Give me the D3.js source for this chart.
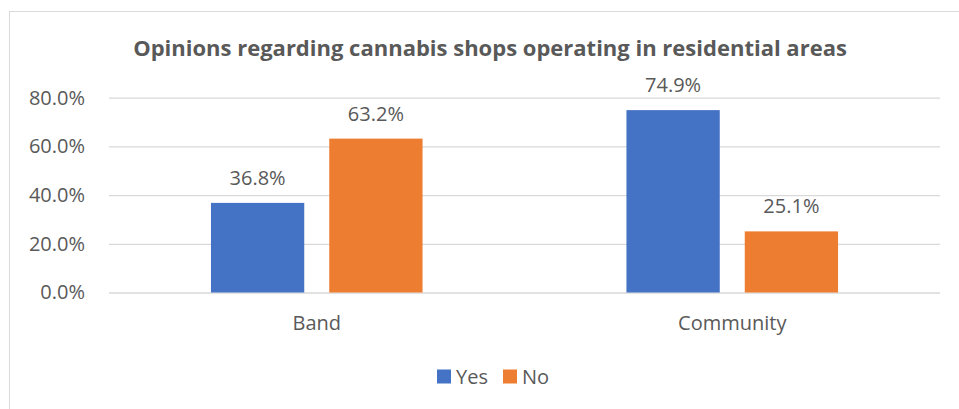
<!DOCTYPE html>
<html>
<head>
<meta charset="utf-8">
<script src="https://cdn.jsdelivr.net/npm/d3@7"></script>
<style>
  html, body { margin: 0; padding: 0; background: #fff; }
  svg { display: block; }
  text { font-family: "Open Sans", "Noto Sans", sans-serif; fill: #595959; }
</style>
</head>
<body>
<svg id="chart" width="959" height="409"></svg>
<script>
// Survey responses (share of respondents)
const categories = ["Band", "Community"];
const seriesNames = ["Yes", "No"];
const yesValues = [36.8, 74.9];
const noValues = [63.2, 25.1];
const yTicks = [0, 20, 40, 60, 80];
const title = "Opinions regarding cannabis shops operating in residential areas";
const colors = { Yes: "#4472C4", No: "#ED7D31" };

const rows = categories.map((c, i) => ({ category: c, Yes: yesValues[i], No: noValues[i] }));

const svg = d3.select("#chart");
const plot = { left: 109, right: 940, top: 97.7, bottom: 292.5 };
const labelSize = "20px";

// Chart frame
svg.append("rect")
  .attr("x", 9.5).attr("y", 11.5)
  .attr("width", 962).attr("height", 410)
  .attr("fill", "#fff").attr("stroke", "#D9D9D9").attr("stroke-width", 1);

svg.append("text")
  .attr("x", 490).attr("y", 56)
  .attr("text-anchor", "middle")
  .style("font-size", "22px").style("font-weight", "bold")
  .text(title);

const y = d3.scaleLinear().domain([0, 80]).range([plot.bottom, plot.top]);
const x0 = d3.scaleBand().domain(categories).range([plot.left, plot.right]).padding(0);
const groupW = 211.6;
const x1 = d3.scaleBand().domain(seriesNames)
  .range([-groupW / 2, groupW / 2]).paddingInner(0.2113).paddingOuter(0);

// Gridlines and y tick labels
const yAxis = d3.axisLeft(y).tickValues(yTicks)
  .tickSize(-(plot.right - plot.left)).tickPadding(24)
  .tickFormat(d => d.toFixed(1) + "%");
const gy = svg.append("g").attr("transform", `translate(${plot.left},0)`).call(yAxis);
gy.select(".domain").remove();
gy.selectAll(".tick line").attr("stroke", "#D9D9D9").attr("stroke-width", 1.3);
gy.selectAll(".tick text")
  .attr("fill", "#595959")
  .style("font-size", labelSize)
  .style("font-family", "'Open Sans', 'Noto Sans', sans-serif");

// Category labels
const xAxis = d3.axisBottom(x0).tickSize(0).tickPadding(23);
const gx = svg.append("g").attr("transform", `translate(0,${plot.bottom})`).call(xAxis);
gx.select(".domain").remove();
gx.selectAll(".tick text")
  .attr("fill", "#595959")
  .style("font-size", labelSize)
  .style("font-family", "'Open Sans', 'Noto Sans', sans-serif");

// Bars
const groups = svg.append("g").selectAll("g").data(rows).join("g")
  .attr("transform", d => `translate(${x0(d.category) + x0.bandwidth() / 2},0)`);

const cells = groups.selectAll("g").data(d => seriesNames.map(k => ({ key: k, value: d[k] }))).join("g");

cells.append("rect")
  .attr("x", d => x1(d.key))
  .attr("width", x1.bandwidth())
  .attr("y", d => y(d.value))
  .attr("height", d => y(0) - y(d.value))
  .attr("fill", d => colors[d.key]);

cells.append("text")
  .attr("x", d => x1(d.key) + x1.bandwidth() / 2)
  .attr("y", d => y(d.value) - 18)
  .attr("text-anchor", "middle")
  .style("font-size", labelSize)
  .text(d => d.value.toFixed(1) + "%");

// Legend
const legend = svg.append("g").attr("transform", "translate(437,369.5)");
const legendX = { Yes: 0, No: 66 };
const li = legend.selectAll("g").data(seriesNames).join("g")
  .attr("transform", d => `translate(${legendX[d]},0)`);
li.append("rect").attr("width", 14).attr("height", 14).attr("fill", d => colors[d]);
li.append("text").attr("x", 19).attr("y", 14.5).style("font-size", labelSize).text(d => d);
</script>
</body>
</html>
